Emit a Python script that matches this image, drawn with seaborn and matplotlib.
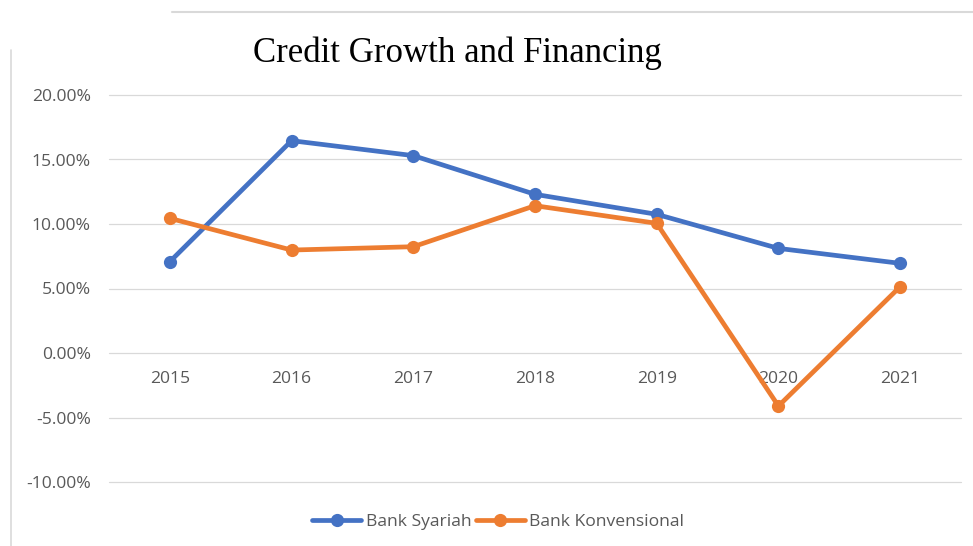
import matplotlib
matplotlib.use("Agg")
import matplotlib.pyplot as plt
from matplotlib.lines import Line2D
from matplotlib.ticker import FuncFormatter, MultipleLocator
import seaborn as sns
import pandas as pd

# Annual growth rates (%)
years = ["2015", "2016", "2017", "2018", "2019", "2020", "2021"]
bank_syariah = [7.08, 16.46, 15.30, 12.30, 10.75, 8.11, 6.95]
bank_konvensional = [10.44, 7.98, 8.24, 11.42, 10.05, -4.11, 5.14]
series_names = ["Bank Syariah", "Bank Konvensional"]
title = "Credit Growth and Financing"

df = pd.DataFrame({
    "year": years * 2,
    "growth": bank_syariah + bank_konvensional,
    "bank": [series_names[0]] * len(years) + [series_names[1]] * len(years),
})

sns.set_theme(style="white")
plt.rcParams["font.family"] = ["Open Sans", "DejaVu Sans"]

fig = plt.figure(figsize=(9.73, 5.46), dpi=100)
ax = fig.add_axes([109 / 973, 1 - 482 / 546, 852 / 973, 387 / 546])

palette = {series_names[0]: "#4472C4", series_names[1]: "#ED7D31"}
sns.lineplot(data=df, x="year", y="growth", hue="bank", hue_order=series_names,
             palette=palette, marker="o", markersize=9.5, markeredgewidth=0,
             linewidth=3.4, ax=ax, sort=False, zorder=3)

ax.set_ylim(-10, 20)
ax.set_xlim(-0.5, len(years) - 0.5)
ax.yaxis.set_major_locator(MultipleLocator(5))
ax.yaxis.set_major_formatter(FuncFormatter(lambda v, p: f"{v:.2f}%"))
ax.grid(axis="y", color="#d9d9d9", linewidth=0.9, zorder=0)
ax.grid(axis="x", visible=False)
for gl in ax.get_ygridlines():
    gl.set_clip_on(False)
for s in ax.spines.values():
    s.set_visible(False)

# category labels sit just under the zero line
ax.spines["bottom"].set_position(("data", 0))
ax.tick_params(axis="x", length=0, pad=13, labelsize=12.6, labelcolor="#595959")
ax.tick_params(axis="y", length=0, pad=13, labelsize=12.6, labelcolor="#595959")
ax.set_xlabel("")
ax.set_ylabel("")

leg = ax.legend(loc="center", bbox_to_anchor=(498 / 973, 1 - 522 / 546),
                bbox_transform=fig.transFigure, ncol=2, frameon=False,
                handlelength=2.8, handletextpad=0.25, columnspacing=0.25,
                fontsize=12.6)
for t in leg.get_texts():
    t.set_color("#595959")

fig.text(457 / 973, 1 - 53 / 546, title, ha="center", va="center",
         fontsize=25, family=["Liberation Serif", "DejaVu Serif"], color="black")

# thin frame strokes around the chart area
fig.add_artist(Line2D([172 / 973, 1.0], [1 - 12 / 546, 1 - 12 / 546],
                      transform=fig.transFigure, color="#d9d9d9", linewidth=1.5))
fig.add_artist(Line2D([11 / 973, 11 / 973], [0.0, 1 - 50 / 546],
                      transform=fig.transFigure, color="#d9d9d9", linewidth=1.2))

fig.savefig("out.png", dpi=100, facecolor="white")
